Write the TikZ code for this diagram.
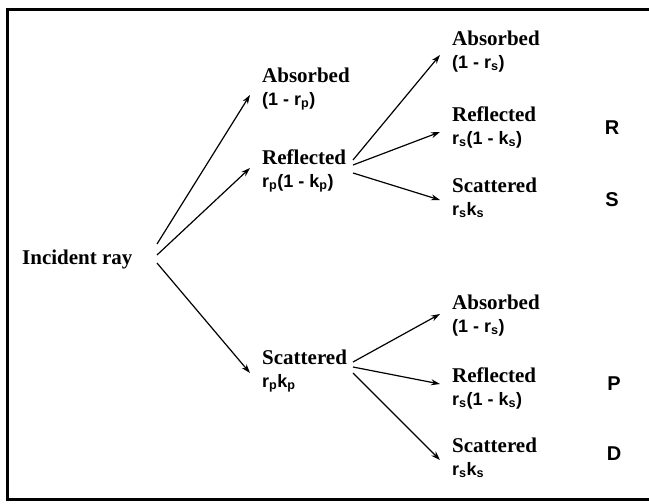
\documentclass[tikz,border=0pt]{standalone}
\usepackage{fontspec}
\setmainfont{Liberation Serif}
\setsansfont{Liberation Sans}
\usetikzlibrary{arrows.meta, positioning}

\tikzset{
  lbl/.style={anchor=base west, inner sep=0pt, align=left,
    font=\bfseries\fontsize{21}{23}\selectfont},
  tag/.style={inner sep=0pt, font=\sffamily\bfseries\fontsize{20}{22}\selectfont},
  ray/.style={-{Stealth[length=9pt,width=6pt]}, line width=1.2pt},
}
\newcommand{\frm}[1]{{\sffamily\fontsize{18}{23}\selectfont #1}}
\newcommand{\idx}[1]{\textsubscript{#1}}

\begin{document}
\begin{tikzpicture}[x=1pt, y=-1pt]
    \useasboundingbox (0,0) rectangle (649,504);
    % frame, open on the right
    \draw[line width=3pt] (649,9) -- (7,9) -- (7,499) -- (649,499);

    % --- first split ---
    \node[lbl] (inc) at (22,264) {Incident ray};
    \node[lbl] (a1) at (262,105) {Absorbed\\\frm{(1 - r\idx{p})}};
    \node[lbl] (r1) at (262,187) {Reflected\\\frm{r\idx{p}(1 - k\idx{p})}};
    \node[lbl] (s1) at (262,387) {Scattered\\\frm{r\idx{p}k\idx{p}}};

    % --- after reflection ---
    \node[lbl] (a2) at (452,68) {Absorbed\\\frm{(1 - r\idx{s})}};
    \node[lbl] (r2) at (452,144) {Reflected\\\frm{r\idx{s}(1 - k\idx{s})}};
    \node[lbl] (s2) at (452,215) {Scattered\\\frm{r\idx{s}k\idx{s}}};

    % --- after scattering ---
    \node[lbl] (a3) at (452,332) {Absorbed\\\frm{(1 - r\idx{s})}};
    \node[lbl] (r3) at (452,405) {Reflected\\\frm{r\idx{s}(1 - k\idx{s})}};
    \node[lbl] (s3) at (452,475) {Scattered\\\frm{r\idx{s}k\idx{s}}};

    % letters on the right
    \node[tag] (tR) at (612,128) {R};
    \node[tag] (tS) at (612,200) {S};
    \node[tag] (tP) at (614,384) {P};
    \node[tag] (tD) at (614,454) {D};

    % arrows
    \draw[ray] ([xshift=135pt,yshift=20pt]inc.base west) -- ([xshift=-12pt,yshift=10pt]a1.base west);
    \draw[ray] ([xshift=135pt,yshift=9pt]inc.base west) -- ([xshift=-12pt,yshift=19pt]r1.base west);
    \draw[ray] ([xshift=135pt,yshift=1pt]inc.base west) -- ([xshift=-12pt,yshift=14pt]s1.base west);

    \draw[ray] ([xshift=91pt,yshift=27pt]r1.base west) -- ([xshift=-12pt,yshift=13pt]a2.base west);
    \draw[ray] ([xshift=91pt,yshift=22pt]r1.base west) -- ([xshift=-12pt,yshift=12pt]r2.base west);
    \draw[ray] ([xshift=91pt,yshift=14pt]r1.base west) -- ([xshift=-12pt,yshift=15pt]s2.base west);

    \draw[ray] ([xshift=91pt,yshift=25pt]s1.base west) -- ([xshift=-12pt,yshift=18pt]a3.base west);
    \draw[ray] ([xshift=91pt,yshift=20pt]s1.base west) -- ([xshift=-12pt,yshift=21pt]r3.base west);
    \draw[ray] ([xshift=91pt,yshift=14pt]s1.base west) -- ([xshift=-12pt,yshift=15pt]s3.base west);
\end{tikzpicture}
\end{document}
